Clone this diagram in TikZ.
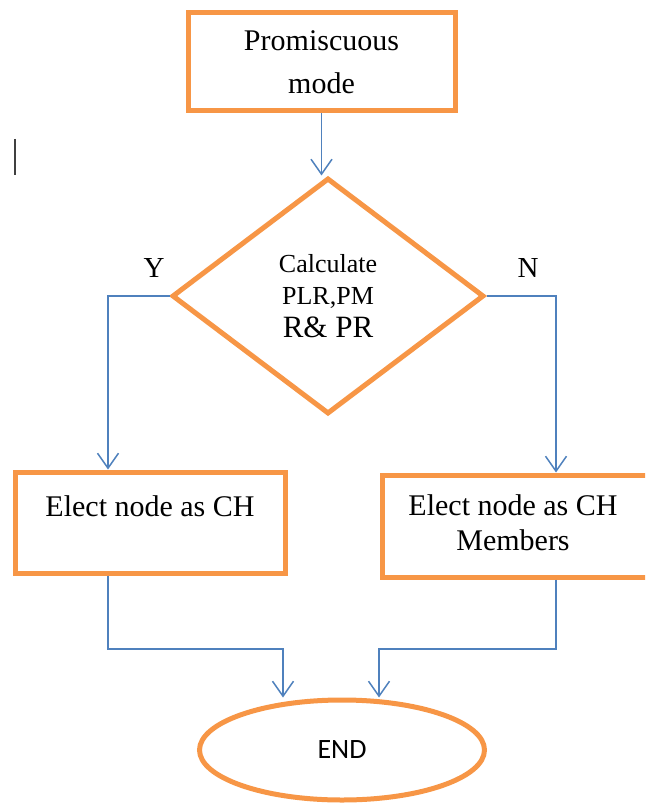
\documentclass[tikz,border=0pt]{standalone}
\usepackage{fontspec}
\setmainfont{Liberation Serif}
\newfontfamily\endfont{Carlito}
\usetikzlibrary{shapes.geometric,arrows.meta}
\definecolor{boxorange}{HTML}{F79646}
\definecolor{linkblue}{HTML}{4F81BD}
\definecolor{cursorgray}{HTML}{404040}
\begin{document}
\begin{tikzpicture}[x=1pt,y=-1pt,
  box/.style={draw=boxorange, line width=5pt, rectangle, align=center,
    inner sep=0pt, fill=white},
  decision/.style={draw=boxorange, line width=5pt, diamond, align=center,
    inner sep=0pt, fill=white},
  terminal/.style={draw=boxorange, line width=5pt, ellipse, inner sep=0pt,
    fill=white},
  link/.style={draw=linkblue, line width=1.5pt},
  arr/.style={link, -{Straight Barb[length=15pt,width=21pt]}},
  branch/.style={font=\fontsize{29}{34}\selectfont, inner sep=0pt}
]
\useasboundingbox (0,0) rectangle (645,805);
\clip (0,0) rectangle (645,805);

% blocks of the flow
\node[box, minimum width=267pt, minimum height=98pt,
  font=\fontsize{30}{43}\selectfont] (start) at (321.5,62) {Promiscuous\\mode};
\node[decision, minimum width=312pt, minimum height=236pt,
  font=\fontsize{26}{32}\selectfont] (calc) at (328,296)
  {Calculate\\PLR,PM\\[1pt]{\fontsize{31}{35}\selectfont R\& PR}};
\node[box, minimum width=270pt, minimum height=101pt,
  font=\fontsize{30}{35}\selectfont] (ch) at (150,522.5) {Elect node as CH\\[-12pt]\strut};
% this box runs past the right margin; the padding keeps its text centred on the visible part
\node[box, minimum width=318pt, minimum height=102pt,
  font=\fontsize{30}{35}\selectfont] (mem) at (541,526)
  {\begin{tabular}{@{}c@{\hspace{56pt}}}Elect node as CH\\Members\end{tabular}};
\node[terminal, minimum width=285pt, minimum height=100pt,
  font=\endfont\fontsize{28}{32}\selectfont] (finish) at (342,750) {END};

% branch labels
\node[branch] (yes) at (154,268.5) {Y};
\node[branch] (no) at (528,268.5) {N};

% columns and joins for the elbow connectors
\coordinate (ycol) at (108,0);
\coordinate (ncol) at (556,0);
\coordinate (ljoin) at (283,649);
\coordinate (rjoin) at (379,649);

% connectors
\draw[arr] (start.south) -- (start.south |- calc.north);
\draw[arr] (calc.west) -| (ycol |- ch.north);
\draw[arr] (calc.east) -| (ncol |- mem.north);
\draw[arr] (ycol |- ch.south) |- (ljoin) -- (ljoin |- finish.north);
\draw[arr] (ncol |- mem.south) |- (rjoin) -- (rjoin |- finish.north);

% text cursor at the left margin
\draw[cursorgray, line width=2pt] (15,139) -- (15,175);
\end{tikzpicture}
\end{document}
